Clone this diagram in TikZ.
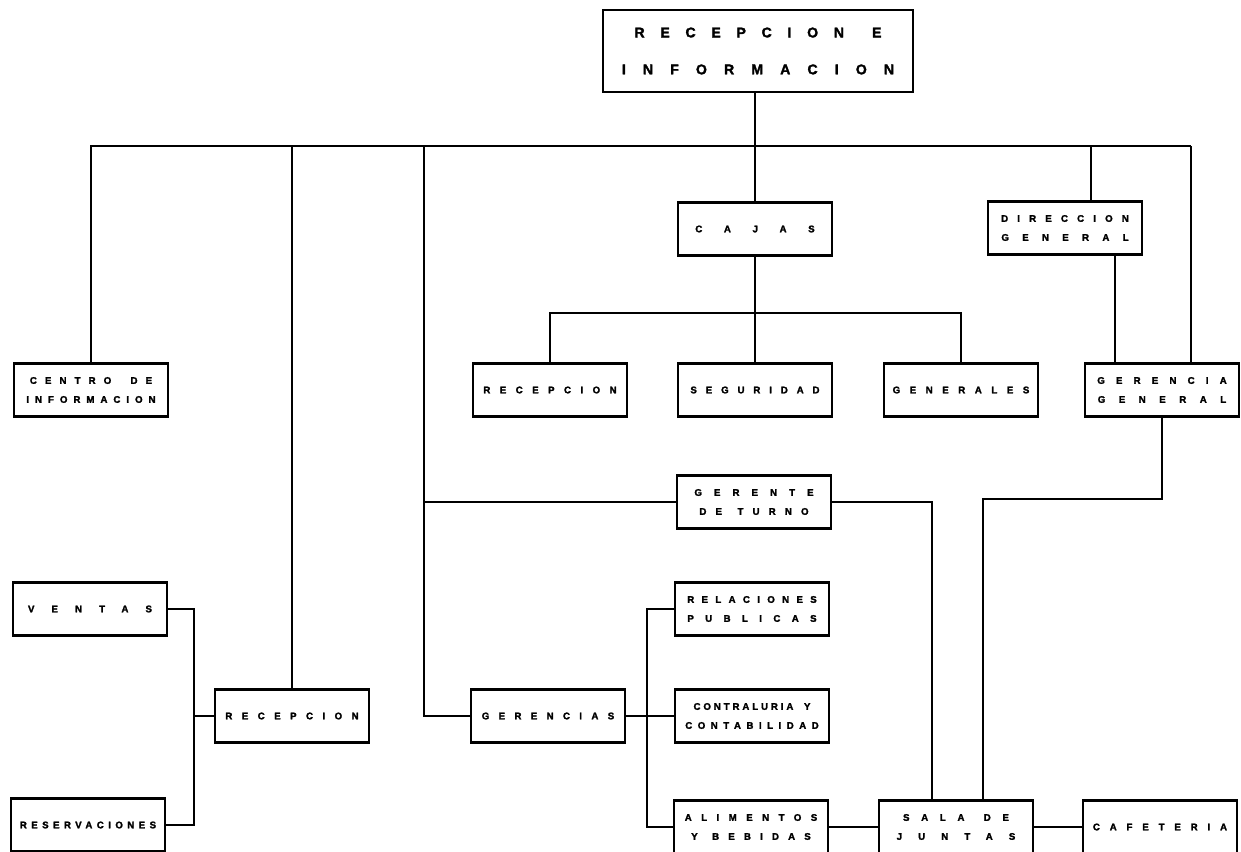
\documentclass[tikz,border=0pt]{standalone}
\usepackage{fontspec}
\setmainfont{Liberation Sans}
\usetikzlibrary{calc}
% tracked capitals, as in the stencil lettering
\newcommand\trk[2]{{\addfontfeature{LetterSpace=#1,FakeBold=2}#2}}
\begin{document}
\begin{tikzpicture}[
    x=0.02cm, y=-0.02cm,
    unit/.style={draw, line width=1.2pt, inner sep=0pt, align=center, minimum width=3.08cm, minimum height=1.06cm, font=\fontsize{5.5}{10.8}\selectfont\bfseries},
    bigunit/.style={unit, minimum width=6.2cm, minimum height=1.64cm, font=\fontsize{8}{21}\selectfont\bfseries},
    link/.style={line width=1.2pt}
]
    \useasboundingbox (0,0) rectangle (1241,852);
    \node[bigunit] (recinfo) at (758,51) {\trk{112}{RECEPCION\hspace{2em}E}\\\trk{122}{INFORMACION}};
    \node[unit] (cajas) at (755,229) {\trk{224}{CAJAS}};
    \node[unit] (direccion) at (1065,228) {\trk{95}{DIRECCION}\\\trk{138}{GENERAL}};
    \node[unit] (centro) at (91,390) {\trk{84}{CENTRO\hspace{2em}DE}\\\trk{62}{INFORMACION}};
    \node[unit] (recmid) at (550,390) {\trk{98}{RECEPCION}};
    \node[unit] (seguridad) at (755,390) {\trk{92}{SEGURIDAD}};
    \node[unit] (generales) at (961,390) {\trk{99}{GENERALES}};
    \node[unit] (gerencia) at (1162,390) {\trk{116}{GERENCIA}\\\trk{140}{GENERAL}};
    \node[unit] (gerente) at (754,502) {\trk{125}{GERENTE}\\\trk{95}{DE\hspace{1.6em}TURNO}};
    \node[unit] (ventas) at (90,609) {\trk{177}{VENTAS}};
    \node[unit] (relaciones) at (752,609) {\trk{76}{RELACIONES}\\\trk{118}{PUBLICAS}};
    \node[unit] (reclow) at (292,716) {\trk{98}{RECEPCION}};
    \node[unit] (gerencias) at (548,716) {\trk{97}{GERENCIAS}};
    \node[unit] (contraluria) at (752,716) {\trk{30}{CONTRALURIA\hspace{1.1em}Y}\\\trk{57}{CONTABILIDAD}};
    \node[unit] (reservaciones) at (88,825) {\trk{46}{RESERVACIONES}};
    \node[unit] (alimentos) at (751,827) {\trk{98}{ALIMENTOS}\\\trk{95}{Y\hspace{1.5em}BEBIDAS}};
    \node[unit] (sala) at (956,827) {\trk{121}{SALA\hspace{2em}DE}\\\trk{167}{JUNTAS}};
    \node[unit] (cafeteria) at (1160,827) {\trk{102}{CAFETERIA}};

    % main bus
    \coordinate (busL) at (90,146);
    \coordinate (busR) at (1191,146);
    \coordinate (trunk) at (424,146);
    \coordinate (dirtop) at (1091,146);
    \draw[link] (busL) -- (busR);
    \draw[link] (recinfo.south -| cajas.north) -- (cajas.north |- busL);
    \draw[link] (centro.north) -- (centro.north |- busL);
    \draw[link] (reclow.north) -- (reclow.north |- busL);
    \draw[link] (cajas.north) -- (cajas.north |- busL);
    \draw[link] (dirtop) -- (dirtop |- direccion.north);
    \draw[link] (busR) -- (busR |- gerencia.north);
    \draw[link] (trunk) |- (gerencias.west);
    \draw[link] (trunk |- gerente.west) -- (gerente.west);

    % cajas
    \coordinate (cajasbus) at (755,313);
    \draw[link] (cajas.south) -- (cajasbus);
    \draw[link] (recmid.north) |- (cajasbus) -| (generales.north);
    \draw[link] (seguridad.north) -- (seguridad.north |- cajasbus);

    % direccion y gerencia
    \draw[link] ([xshift=1cm]direccion.south) -- ([xshift=1cm]direccion.south |- gerencia.north);
    \draw[link] (gerencia.south) |- (983,499) -- ($(sala.north)+(27,0)$);
    \draw[link] (gerente.east) -| ($(sala.north)+(-24,0)$);

    % gerencias
    \draw[link] (gerencias.east) -- (contraluria.west);
    \draw[link] (relaciones.west) -- ++(-27,0) |- (alimentos.west);
    \draw[link] (alimentos.east) -- (sala.west);
    \draw[link] (sala.east) -- (cafeteria.west);

    % recepcion
    \draw[link] (ventas.east) -- ++(26,0) |- (reservaciones.east);
    \draw[link] (reclow.west) -- ++(-21,0);
\end{tikzpicture}
\end{document}
